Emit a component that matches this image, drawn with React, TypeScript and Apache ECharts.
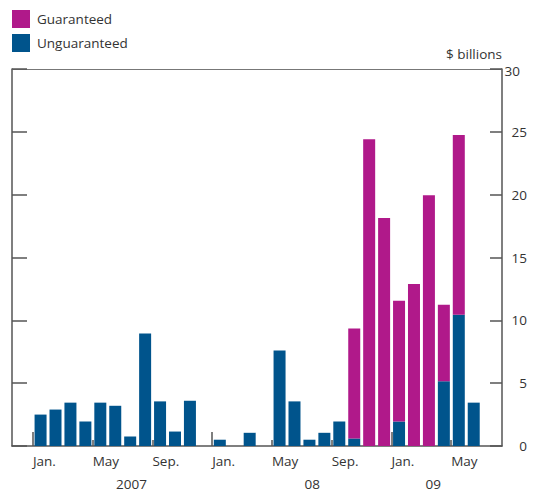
import React, { useEffect, useRef } from "react";
import * as echarts from "echarts";

// Monthly, Jan 2007 .. Jun 2009 ($ billions)
const months = [
  "Jan 07", "Feb 07", "Mar 07", "Apr 07", "May 07", "Jun 07", "Jul 07", "Aug 07", "Sep 07", "Oct 07", "Nov 07", "Dec 07",
  "Jan 08", "Feb 08", "Mar 08", "Apr 08", "May 08", "Jun 08", "Jul 08", "Aug 08", "Sep 08", "Oct 08", "Nov 08", "Dec 08",
  "Jan 09", "Feb 09", "Mar 09", "Apr 09", "May 09", "Jun 09",
];
const unguaranteed = [
  2.5, 2.9, 3.45, 1.95, 3.45, 3.2, 0.75, 8.95, 3.55, 1.15, 3.6, 0,
  0.5, 0, 1.05, 0, 7.6, 3.55, 0.5, 1.05, 1.95, 0.6, 0, 0,
  1.95, 0, 0, 5.15, 10.45, 3.45,
];
const guaranteed = [
  0, 0, 0, 0, 0, 0, 0, 0, 0, 0, 0, 0,
  0, 0, 0, 0, 0, 0, 0, 0, 0, 8.75, 24.4, 18.15,
  9.6, 12.9, 19.95, 6.1, 14.3, 0,
];
const monthTickLabels = ["Jan.", "May", "Sep."];
const yearLabels = ["2007", "08", "09"];
const yearLabelAt = [6.1, 18.2, 26.3];

const MAGENTA = "#B0198A";
const BLUE = "#00548C";
const AXIS = "#555555";
const TEXT = "#333333";
const FONT = "Open Sans";

export default function App() {
  const ref = useRef<HTMLDivElement>(null);
  useEffect(() => {
    if (!ref.current) return;
    const chart = echarts.init(ref.current, undefined, { renderer: "svg" });
    const n = months.length;
    const janTicks: number[] = [];
    const otherTicks: number[] = [];
    const labelTicks: number[] = [];
    for (let i = 0; i < n; i += 4) {
      labelTicks.push(i - 0.5);
      if (i % 12 === 0) janTicks.push(i - 0.5);
      else otherTicks.push(i - 0.5);
    }
    const xMin = -1.9;
    const xMax = 30.9;
    const baseX = {
      type: "value",
      min: xMin,
      max: xMax,
      gridIndex: 0,
      splitLine: { show: false },
      axisLine: { show: false, onZero: false },
      axisTick: { show: false },
      axisLabel: { show: false },
    };
    const option: any = {
      animation: false,
      textStyle: { fontFamily: FONT },
      legend: {
        orient: "vertical",
        left: 12,
        top: 10,
        padding: 0,
        itemWidth: 18,
        itemHeight: 18,
        itemGap: 6,
        icon: "rect",
        data: ["Guaranteed", "Unguaranteed"],
        textStyle: { fontSize: 13.5, color: TEXT, fontFamily: FONT, padding: [0, 0, 0, 2] },
      },
      grid: [
        { left: 12, right: 31, top: 69, bottom: 49, containLabel: false },
        { left: 33.1, right: 51.8, top: 69, bottom: 49, containLabel: false },
      ],
      xAxis: [
        {
          ...baseX,
          position: "bottom",
          axisLine: { show: true, onZero: false, lineStyle: { color: AXIS, width: 1.5 } },
          axisTick: {
            show: true,
            inside: true,
            length: 14,
            customValues: janTicks,
            lineStyle: { color: AXIS, width: 1.5 },
          },
          axisLabel: {
            show: true,
            customValues: labelTicks,
            align: "left",
            margin: 8,
            fontSize: 13.5,
            color: TEXT,
            fontFamily: FONT,
            formatter: (v: number) => {
              const idx = Math.round(v + 0.5);
              return monthTickLabels[(idx % 12) / 4];
            },
          },
        },
        {
          ...baseX,
          position: "bottom",
          axisTick: {
            show: true,
            inside: true,
            length: 6,
            customValues: otherTicks,
            lineStyle: { color: AXIS, width: 1.5 },
          },
        },
        {
          ...baseX,
          position: "bottom",
          axisLabel: {
            show: true,
            customValues: yearLabelAt,
            margin: 31,
            fontSize: 13.5,
            color: TEXT,
            fontFamily: FONT,
            formatter: (v: number) => {
              let best = 0;
              for (let k = 0; k < yearLabelAt.length; k++) {
                if (Math.abs(yearLabelAt[k] - v) < Math.abs(yearLabelAt[best] - v)) best = k;
              }
              return yearLabels[best];
            },
          },
        },
        {
          ...baseX,
          position: "top",
          axisLine: { show: true, onZero: false, lineStyle: { color: "#777777", width: 1.2 } },
        },
        {
          type: "category",
          gridIndex: 1,
          data: months,
          boundaryGap: true,
          axisLine: { show: false },
          axisTick: { show: false },
          axisLabel: { show: false },
          splitLine: { show: false },
        },
      ],
      yAxis: [
        {
          type: "value",
          gridIndex: 0,
          position: "right",
          min: 0,
          max: 30,
          interval: 5,
          name: "$ billions",
          nameLocation: "end",
          nameGap: 15,
          nameTextStyle: { align: "right", verticalAlign: "middle", fontSize: 13.5, color: TEXT, fontFamily: FONT },
          splitLine: { show: false },
          axisLine: { show: true, onZero: false, lineStyle: { color: AXIS, width: 1.5 } },
          axisTick: { show: true, inside: true, length: 12, lineStyle: { color: AXIS, width: 1.5 } },
          axisLabel: {
            show: true,
            align: "right",
            margin: 25,
            fontSize: 13.5,
            color: TEXT,
            fontFamily: FONT,
            formatter: (v: number) => (v === 30 ? "{top|30}" : String(v)),
            rich: {
              top: { fontSize: 13.5, color: TEXT, fontFamily: FONT, padding: [4, 7, 0, 0] },
            },
          },
        },
        {
          type: "value",
          gridIndex: 0,
          position: "left",
          min: 0,
          max: 30,
          interval: 5,
          splitLine: { show: false },
          axisLine: { show: true, onZero: false, lineStyle: { color: AXIS, width: 1.5 } },
          axisTick: { show: true, inside: true, length: 15, lineStyle: { color: AXIS, width: 1.5 } },
          axisLabel: { show: false },
        },
        {
          type: "value",
          gridIndex: 1,
          min: 0,
          max: 30,
          interval: 5,
          splitLine: { show: false },
          axisLine: { show: false },
          axisTick: { show: false },
          axisLabel: { show: false },
        },
      ],
      series: [
        {
          name: "Unguaranteed",
          type: "bar",
          stack: "total",
          xAxisIndex: 4,
          yAxisIndex: 2,
          barWidth: 12,
          itemStyle: { color: BLUE },
          data: unguaranteed,
        },
        {
          name: "Guaranteed",
          type: "bar",
          stack: "total",
          xAxisIndex: 4,
          yAxisIndex: 2,
          barWidth: 12,
          itemStyle: { color: MAGENTA },
          data: guaranteed,
        },
      ],
    };
    chart.setOption(option);
    return () => chart.dispose();
  }, []);
  return (
    <div
      ref={ref}
      style={{ position: "absolute", left: 0, top: 0, width: 533, height: 495, background: "#fff" }}
    />
  );
}
